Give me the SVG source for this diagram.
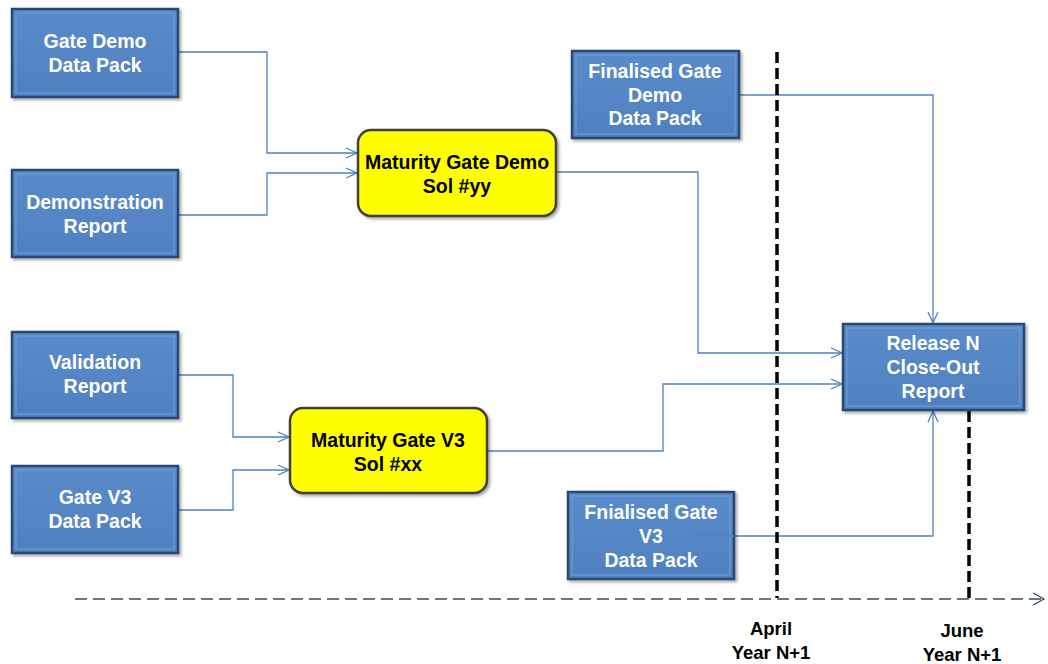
<svg xmlns="http://www.w3.org/2000/svg" width="1048" height="664" viewBox="0 0 1048 664">
<defs>
<marker id="arr" markerWidth="14" markerHeight="12" refX="12" refY="6" orient="auto" markerUnits="userSpaceOnUse">
<path d="M1,1 L12,6 L1,11" fill="none" stroke="#4f81bd" stroke-width="1.3"/>
</marker>
<marker id="axarr" markerWidth="14" markerHeight="14" refX="12" refY="7" orient="auto" markerUnits="userSpaceOnUse">
<path d="M1,1 L12,7 L1,13" fill="none" stroke="#3a4a5c" stroke-width="1.3"/>
</marker>
<linearGradient id="blue" x1="0" y1="0" x2="0" y2="1">
<stop offset="0" stop-color="#5a8bcb"/>
<stop offset="1" stop-color="#4f80c0"/>
</linearGradient>
<filter id="sh" x="-10%" y="-10%" width="130%" height="130%">
<feDropShadow dx="2" dy="2" stdDeviation="1.5" flood-color="#000" flood-opacity="0.35"/>
</filter>
</defs>
<style>
.b{fill:url(#blue);stroke:#2b4a70;stroke-width:2.5;filter:url(#sh)}
.bi{fill:none;stroke:#7aa3d8;stroke-width:1.5;opacity:0.6}
.y{fill:#ffff00;stroke:#3f3f3f;stroke-width:2.5;filter:url(#sh)}
.tw{font-family:"Liberation Sans",Arial,sans-serif;font-weight:bold;font-size:19.5px;fill:#fff;text-anchor:middle}
.tk{font-family:"Liberation Sans",Arial,sans-serif;font-weight:bold;font-size:19.5px;fill:#000;text-anchor:middle}
.tl{font-family:"Liberation Sans",Arial,sans-serif;font-weight:bold;font-size:18.5px;fill:#000;text-anchor:middle}
.c{fill:none;stroke:#4f81bd;stroke-width:1.3}
.vd{stroke:#000;stroke-width:3.5;stroke-dasharray:11,5;fill:none}
</style>
<rect width="1048" height="664" fill="#fff"/>

<g id="connectors">
<polyline class="c" points="178,52 267,52 267,153 357,153" marker-end="url(#arr)"/>
<polyline class="c" points="178,215 267,215 267,173 357,173" marker-end="url(#arr)"/>
<polyline class="c" points="178,375 233,375 233,437 289,437" marker-end="url(#arr)"/>
<polyline class="c" points="178,510 233,510 233,470 289,470" marker-end="url(#arr)"/>
<polyline class="c" points="556,172 698,172 698,353 842,353" marker-end="url(#arr)"/>
<polyline class="c" points="487,451 663,451 663,384 842,384" marker-end="url(#arr)"/>
<polyline class="c" points="739,95 933,95 933,323" marker-end="url(#arr)"/>
<polyline class="c" points="692,536 933,536 933,411" marker-end="url(#arr)"/>
</g>

<g id="timeline">
<line x1="75" y1="599" x2="1044" y2="599" stroke="#3a4a5c" stroke-width="1.5" stroke-dasharray="12,6" marker-end="url(#axarr)"/>
<line class="vd" x1="777" y1="52" x2="777" y2="598"/>
<line class="vd" x1="969" y1="411" x2="969" y2="598"/>
<text class="tl" x="771" y="635">April</text>
<text class="tl" x="771" y="659">Year N+1</text>
<text class="tl" x="962" y="637">June</text>
<text class="tl" x="962" y="661">Year N+1</text>
</g>

<g id="gate-demo-data-pack">
<rect class="b" x="12" y="9" width="166" height="88"/>
<rect class="bi" x="16" y="13" width="158" height="80"/>
<text class="tw" x="95" y="48">Gate Demo</text>
<text class="tw" x="95" y="72">Data Pack</text>
</g>
<g id="demonstration-report">
<rect class="b" x="12" y="170" width="166" height="87"/>
<rect class="bi" x="16" y="174" width="158" height="79"/>
<text class="tw" x="95" y="209">Demonstration</text>
<text class="tw" x="95" y="233">Report</text>
</g>
<g id="validation-report">
<rect class="b" x="12" y="332" width="166" height="86"/>
<rect class="bi" x="16" y="336" width="158" height="78"/>
<text class="tw" x="95" y="369">Validation</text>
<text class="tw" x="95" y="393">Report</text>
</g>
<g id="gate-v3-data-pack">
<rect class="b" x="12" y="466" width="166" height="87"/>
<rect class="bi" x="16" y="470" width="158" height="79"/>
<text class="tw" x="95" y="504">Gate V3</text>
<text class="tw" x="95" y="528">Data Pack</text>
</g>
<g id="maturity-gate-demo">
<rect class="y" x="358" y="130" width="198" height="86" rx="13"/>
<text class="tk" x="457" y="169">Maturity Gate Demo</text>
<text class="tk" x="457" y="193">Sol #yy</text>
</g>
<g id="maturity-gate-v3">
<rect class="y" x="290" y="408" width="197" height="85" rx="13"/>
<text class="tk" x="388" y="447">Maturity Gate V3</text>
<text class="tk" x="388" y="471">Sol #xx</text>
</g>
<g id="finalised-gate-demo">
<rect class="b" x="572" y="51" width="167" height="87"/>
<rect class="bi" x="576" y="55" width="159" height="79"/>
<text class="tw" x="655" y="78">Finalised Gate</text>
<text class="tw" x="655" y="102">Demo</text>
<text class="tw" x="655" y="125">Data Pack</text>
</g>
<g id="release-n-close-out">
<rect class="b" x="843" y="324" width="181" height="86"/>
<rect class="bi" x="847" y="328" width="173" height="78"/>
<text class="tw" x="933" y="350">Release N</text>
<text class="tw" x="933" y="374">Close-Out</text>
<text class="tw" x="933" y="398">Report</text>
</g>
<g id="fnialised-gate-v3">
<rect class="b" x="568" y="492" width="166" height="87"/>
<rect class="bi" x="572" y="496" width="158" height="79"/>
<text class="tw" x="651" y="519">Fnialised Gate</text>
<text class="tw" x="651" y="543">V3</text>
<text class="tw" x="651" y="567">Data Pack</text>
</g>
<polyline class="c" points="692,536 734,536"/>
</svg>
